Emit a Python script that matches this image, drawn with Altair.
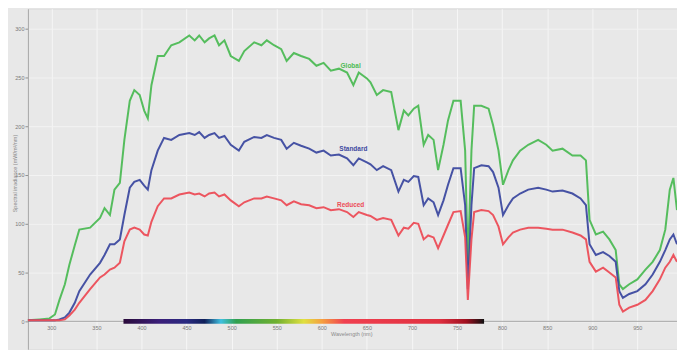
import altair as alt
import pandas as pd

# Wavelength (nm)
wavelength = [274,287,298,304,309,315,320,326,331,343,354,359,365,370,376,381,387,392,398,403,
              407,411,418,425,433,442,453,459,464,470,475,481,486,492,499,508,514,525,533,539,
              547,555,561,569,577,586,594,602,610,619,628,635,641,650,654,661,668,677,685,691,
              696,702,707,713,718,724,729,735,740,746,754,759,762,766,769,777,785,790,796,801,
              807,812,820,829,840,849,856,867,878,887,893,897,904,912,919,926,930,934,941,950,
              959,967,975,981,986,990,994]

global_vals = [1,2,3,7,22,38,58,78,94,96,
               106,116,109,135,142,186,226,237,232,216,
               208,242,272,272,283,286,293,288,293,286,
               290,293,283,288,272,267,277,286,283,288,
               283,279,267,275,272,269,262,265,257,259,
               255,242,255,249,245,232,237,235,196,216,
               211,218,221,181,191,186,155,181,206,226,
               226,175,58,175,221,221,218,201,175,140,
               155,165,175,181,186,181,175,177,170,170,
               165,104,89,92,84,73,38,33,38,43,
               53,61,73,94,135,147,114]

blue_vals = [1,1,1,1,2,4,9,19,31,48,
             60,68,79,79,84,109,137,143,145,139,
             135,155,175,188,186,191,193,191,194,188,
             191,193,188,190,181,175,184,189,188,191,
             188,186,177,183,180,177,173,175,170,171,
             167,160,167,163,161,155,159,155,133,145,
             143,149,148,119,126,122,109,124,140,157,
             157,119,33,119,157,160,159,153,137,109,
             119,126,131,135,137,135,133,134,131,126,
             119,79,68,71,67,61,31,24,28,31,
             38,48,61,73,84,89,79]

red_vals = [1,1,1,1,1,2,6,12,19,33,
            45,48,53,55,60,82,94,96,94,89,
            88,102,118,126,126,130,132,130,131,128,
            131,132,128,130,124,118,122,126,126,128,
            126,124,119,123,120,119,116,117,114,115,
            112,107,112,109,108,104,106,104,88,96,
            95,101,100,84,88,86,75,88,99,112,
            113,86,22,84,112,114,113,109,97,79,
            86,91,94,96,96,95,94,94,91,88,
            84,61,51,55,50,45,17,10,14,17,
            22,31,43,55,61,68,61]

series_names = ["Global", "Standard", "Reduced"]
series_colors = ["#4dbb55", "#3d4aa0", "#ec4d57"]
label_nm = [632, 635, 632]
label_val = [262, 177, 119]

x_ticks = list(range(300, 951, 50))
y_ticks = [0, 50, 100, 150, 200, 250, 300]

visible_range = [380, 780]
spectrum_stops = [(0.0, "#2a0a3a"), (0.1, "#3b1f7a"), (0.175, "#2a2a80"), (0.225, "#10205a"),
                  (0.27, "#40c0e0"), (0.3125, "#30a050"), (0.425, "#70b030"), (0.5, "#e0e040"),
                  (0.55, "#f5a040"), (0.6125, "#f04050"), (0.875, "#e03040"), (0.95, "#a01020"),
                  (1.0, "#101010")]

assert len(wavelength) == len(global_vals) == len(blue_vals) == len(red_vals)

rows = []
for name, vals in zip(series_names, [global_vals, blue_vals, red_vals]):
    for w, v in zip(wavelength, vals):
        rows.append({"nm": w, "val": v, "series": name})
df = pd.DataFrame(rows)

labels_df = pd.DataFrame({"nm": label_nm, "val": label_val, "series": series_names})
bar_df = pd.DataFrame({"start": [visible_range[0]], "end": [visible_range[1]]})

xscale = alt.Scale(domain=[274, 994], nice=False, zero=False)
yscale = alt.Scale(domain=[-28.6, 320.4], nice=False, zero=False)
cscale = alt.Scale(domain=series_names, range=series_colors)

x_axis = alt.Axis(values=x_ticks, grid=True, gridColor="#f6f6f6", gridWidth=1,
                  domain=False, ticks=False, tickSize=0, labelPadding=-24,
                  labelFontSize=5.5, labelColor="#7a7a7a",
                  title="Wavelength (nm)", titleX=304, titleY=-16, titleAlign="left",
                  titleBaseline="middle", titleFontSize=5.5, titleFontWeight="normal",
                  titleColor="#8a8a8a")
y_axis = alt.Axis(values=y_ticks, grid=True, gridColor="#f3f3f3", gridWidth=1,
                  domainColor="#a8a8a8", tickColor="#909090", tickSize=3,
                  labelFontSize=5.5, labelColor="#7a7a7a", labelPadding=1,
                  title="Spectral irradiance (mW/m²/nm)", titleX=-13, titleY=165,
                  titleAngle=270, titleAlign="center", titleBaseline="middle",
                  titleFontSize=5.5, titleFontWeight="normal",
                  titleColor="#8a8a8a")

zero_rule = alt.Chart(bar_df).mark_rule(color="#a5a5a5", strokeWidth=1).encode(
    y=alt.Y("z:Q", scale=yscale, axis=y_axis)
).transform_calculate(z="0")

gradient = alt.Gradient(
    gradient="linear",
    stops=[alt.GradientStop(offset=o, color=c) for o, c in spectrum_stops],
    x1=0, x2=1, y1=0, y2=0,
)
spectrum = alt.Chart(bar_df).mark_rect(fill=gradient).encode(
    x=alt.X("start:Q", scale=xscale, axis=x_axis),
    x2="end:Q",
    y=alt.datum(-2.4),
    y2=alt.datum(2.4),
)

lines = alt.Chart(df).mark_line(strokeWidth=2, interpolate="linear", opacity=0.95).encode(
    x=alt.X("nm:Q", scale=xscale, axis=x_axis),
    y=alt.Y("val:Q", scale=yscale, axis=y_axis),
    color=alt.Color("series:N", scale=cscale, legend=None),
    detail="series:N",
)

labels = alt.Chart(labels_df).mark_text(fontSize=6.5, fontWeight="bold", align="center",
                                         baseline="middle").encode(
    x=alt.X("nm:Q", scale=xscale, axis=x_axis),
    y=alt.Y("val:Q", scale=yscale, axis=y_axis),
    text="series:N",
    color=alt.Color("series:N", scale=cscale, legend=None),
)

chart = alt.layer(zero_rule, spectrum, lines, labels).properties(
    width=652, height=342,
    autosize=alt.AutoSizeParams(type="none"),
    padding={"left": 20, "top": 0, "right": 0, "bottom": 0},
    background="#e8e8e8",
).configure_view(stroke=None, fill="#e8e8e8").configure(font="Liberation Sans")

chart.save("out.html", embed_options={"renderer": "svg", "actions": False})
